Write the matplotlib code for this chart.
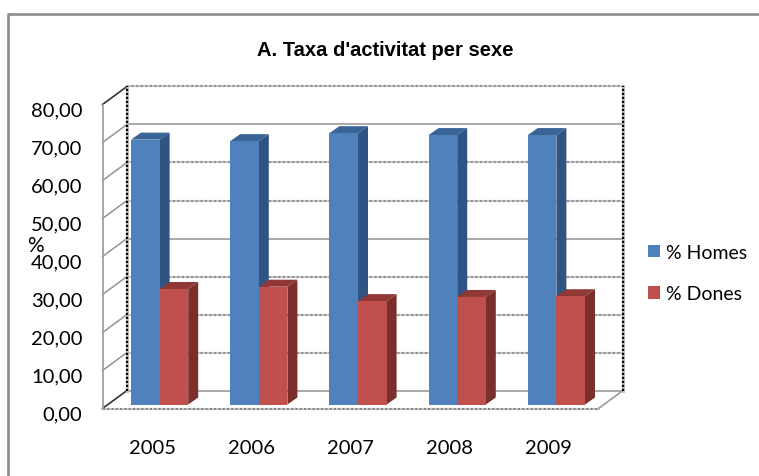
import matplotlib
matplotlib.use("Agg")
import matplotlib.pyplot as plt
from matplotlib.patches import Polygon
from matplotlib.lines import Line2D
from matplotlib.transforms import ScaledTranslation

years = ["2005", "2006", "2007", "2008", "2009"]
homes = [69.7, 69.3, 71.4, 70.9, 70.9]
dones = [30.4, 31.0, 27.2, 28.3, 28.5]
yticks = [0, 10, 20, 30, 40, 50, 60, 70, 80]
grid_solid = [0, 40, 70]  # the other gridlines came out dotted in the original

W, H = 759, 477
plt.rcParams["font.family"] = ["Lato", "DejaVu Sans"]

fig = plt.figure(figsize=(W / 100, H / 100), dpi=100)

# axes = front plane of the fake 3d box
left, right, y0, y80 = 102.5, 598.5, 409.5, 105.5
ax = fig.add_axes([left / W, 1 - y0 / H, (right - left) / W, (y0 - y80) / H])
ax.set_xlim(-0.5, 4.5)
ax.set_ylim(0, 80)
px_x = (right - left) / 5
px_y = (y0 - y80) / 80


def dx(p):
    return p / px_x


def dy(p):
    return p / px_y


# offsets front plane -> back wall, bars -> plane, bar depth
wall_x, wall_y = dx(24.5), dy(18)
lift_x, lift_y = dx(7.5), dy(4)
depth_x, depth_y = dx(10), dy(7)
bw = dx(28.6)

GRAY = "#a8a8a8"
FRAME = "#8c8c8c"

# back wall gridlines and side wall
for v in yticks:
    xs = [-0.5 + wall_x, 4.5 + wall_x]
    ys = [v + wall_y, v + wall_y]
    if v in grid_solid:
        ax.plot(xs, ys, color=GRAY, lw=1.4, zorder=1, clip_on=False)
    else:
        ax.plot(xs, ys, color="#c8c8c8", lw=1.5, zorder=1, clip_on=False)
        ax.plot(xs, ys, color="#909090", lw=1.5, ls=(0, (1, 1.2)), zorder=1, clip_on=False)
    end = v in (0, 80)
    ax.plot([-0.5, -0.5 + wall_x], [v, v + wall_y], color="#333333" if end else "#9a9a9a",
            lw=1.2, zorder=1, clip_on=False)

for xw in (-0.5 + wall_x, 4.5 + wall_x):
    ax.plot([xw, xw], [wall_y, 80 + wall_y], color="#bbbbbb", lw=2, zorder=2, clip_on=False)
    ax.plot([xw, xw], [wall_y, 80 + wall_y], color="black", lw=1.6, ls=(0, (1, 0.8)), zorder=2, clip_on=False)

# floor
ax.plot([-0.5, 4.5], [0, 0], color="#c8c8c8", lw=1.5, zorder=1, clip_on=False)
ax.plot([-0.5, 4.5], [0, 0], color="#808080", lw=1.4, ls=(0, (1, 1.2)), zorder=1, clip_on=False)
ax.plot([4.5, 4.5 + wall_x], [0, wall_y], color="#a0a0a0", lw=1.3, zorder=1, clip_on=False)
ax.plot([-0.5, -0.5], [0, 80], color="#a0a0a0", lw=1.3, zorder=1, clip_on=False)

xpos = list(range(len(years)))


def bars(offset, vals, front, side, top):
    xc = [x + lift_x + offset for x in xpos]
    r = ax.bar(xc, vals, width=bw, bottom=lift_y, color=front, zorder=4, label="_", clip_on=False)
    for x, v in zip(xc, vals):
        a = x - bw / 2
        b = x + bw / 2
        t = v + lift_y
        ax.add_patch(Polygon([(b, lift_y), (b + depth_x, lift_y + depth_y),
                              (b + depth_x, t + depth_y), (b, t)], color=side, lw=0, zorder=3, clip_on=False))
        ax.add_patch(Polygon([(a, t), (a + depth_x, t + depth_y), (b + depth_x, t + depth_y), (b, t)],
                             color=top, lw=0, zorder=3, clip_on=False))
    return r


h1 = bars(-bw / 2, homes, "#4f81bd", "#2f5382", "#3a6396")
h2 = bars(bw / 2, dones, "#c0504d", "#7b2f2d", "#8f3836")

for s in ax.spines.values():
    s.set_visible(False)
ax.patch.set_alpha(0)
ax.set_xticks(xpos, years)
ax.set_yticks(yticks, ["%d,00" % v for v in yticks])
ax.tick_params(length=0, labelsize=14.5, colors="black")
ax.tick_params(axis="x", pad=22)
ax.tick_params(axis="y", pad=14.5)
for lab in ax.get_yticklabels():
    lab.set_transform(lab.get_transform() + ScaledTranslation(0, -2.5 / 72, fig.dpi_scale_trans))

fig.text(35 / W, 1 - 246 / H, "%", fontsize=15, ha="center", va="center")
fig.text(385 / W, 1 - 50 / H, "A. Taxa d'activitat per sexe", fontsize=14.5, fontweight="bold",
         family="Liberation Sans", ha="center", va="center")

fig.legend([h1, h2], ["% Homes", "% Dones"], loc="center left", bbox_to_anchor=(648 / W, 1 - 274 / H),
           frameon=False, fontsize=14, handlelength=0.62, handleheight=0.62, handletextpad=0.3,
           labelspacing=1.25, borderpad=0, borderaxespad=0)

# outer chart border, only top and left are inside the crop
fig.add_artist(Line2D([8 / W, 8 / W, 1], [0, 1 - 15 / H, 1 - 15 / H], color=FRAME, lw=1.9,
                      transform=fig.transFigure))

fig.savefig("out.png", dpi=100)
